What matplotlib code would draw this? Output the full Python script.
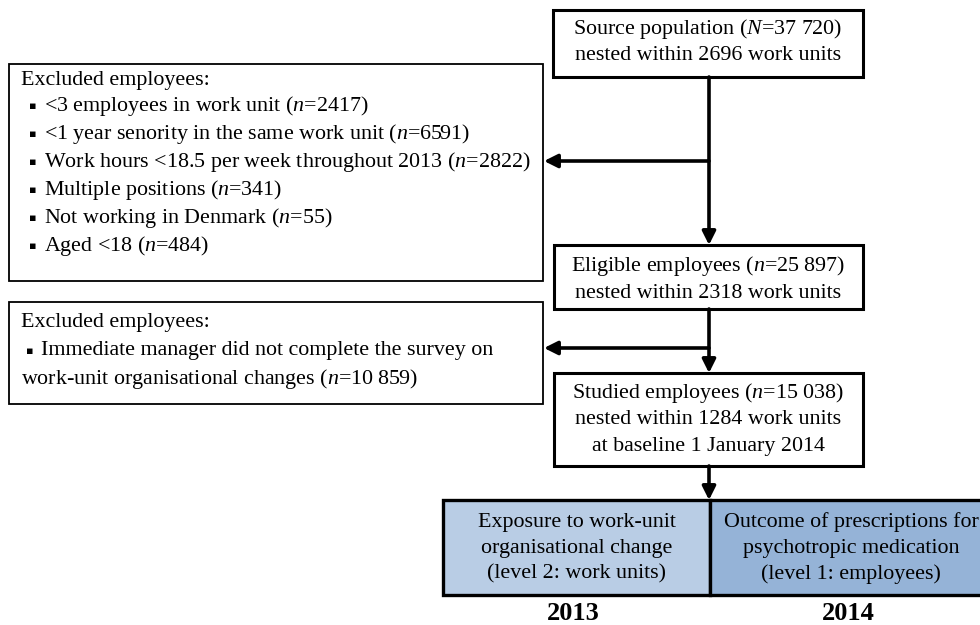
import matplotlib
matplotlib.use('Agg')
import matplotlib.pyplot as plt
from matplotlib.patches import Rectangle

plt.rcParams['mathtext.fontset'] = 'custom'
plt.rcParams['mathtext.rm'] = 'Liberation Serif'
plt.rcParams['mathtext.it'] = 'Liberation Serif:italic'

# flow chart content
source_lines = [r'Source population ($N$=37 720)', 'nested within 2696 work units']
eligible_lines = [r'Eligible employees ($n$=25 897)', 'nested within 2318 work units']
studied_lines = [r'Studied employees ($n$=15 038)', 'nested within 1284 work units',
                 'at baseline 1 January 2014']
excl1_header = 'Excluded employees:'
excl1_items = [r'<3 employees in work unit ($n$=2417)',
               r'<1 year senority in the same work unit ($n$=6591)',
               r'Work hours <18.5 per week throughout 2013 ($n$=2822)',
               r'Multiple positions ($n$=341)',
               r'Not working in Denmark ($n$=55)',
               r'Aged <18 ($n$=484)']
excl2_header = 'Excluded employees:'
excl2_items = ['Immediate manager did not complete the survey on']
excl2_cont = r'work-unit organisational changes ($n$=10 859)'
level_texts = [['Exposure to work-unit', 'organisational change', '(level 2: work units)'],
               ['Outcome of prescriptions for', 'psychotropic medication', '(level 1: employees)']]
years = ['2013', '2014']
level_colors = ['#B9CDE5', '#95B3D7']

SERIF = 'Liberation Serif'
FS = 15.8


def box(ax, x0, y0, x1, y1, lw=2.2, fc='white'):
    ax.add_patch(Rectangle((x0, y0), x1 - x0, y1 - y0, fill=True, facecolor=fc,
                           edgecolor='black', linewidth=lw, zorder=2))


def arrow(ax, start, end):
    ax.annotate('', xy=end, xytext=start,
                arrowprops=dict(arrowstyle='-|>', color='black', lw=2.6,
                                mutation_scale=20, shrinkA=0, shrinkB=0),
                zorder=3)


def main():
    fig = plt.figure(figsize=(9.8, 6.25), dpi=100)
    ax = fig.add_axes([0, 0, 1, 1])
    ax.set_xlim(0, 980)
    ax.set_ylim(625, 0)
    ax.axis('off')

    cx = 709

    # right column boxes
    box(ax, 553, 10, 863, 77)
    for i, t in enumerate(source_lines):
        ax.text(708, 29 + i * 27, t, ha='center', va='center', fontsize=FS, family=SERIF, zorder=4)

    box(ax, 554, 245, 863, 309)
    for i, t in enumerate(eligible_lines):
        ax.text(708, 266 + i * 27, t, ha='center', va='center', fontsize=FS, family=SERIF, zorder=4)

    box(ax, 554, 373, 863, 466)
    for i, t in enumerate(studied_lines):
        ax.text(708, 393 + i * 27, t, ha='center', va='center', fontsize=FS, family=SERIF, zorder=4)

    # excluded box 1
    box(ax, 9, 64, 543, 281, lw=1.3)
    ax.text(21, 80, excl1_header, ha='left', va='center', fontsize=FS, family=SERIF, zorder=4)
    for i, t in enumerate(excl1_items):
        y = 106 + i * 28
        ax.text(29, y, '\u25aa', ha='left', va='center', fontsize=8, family='DejaVu Sans', zorder=4)
        ax.text(44, y, t, ha='left', va='center', fontsize=FS, family=SERIF, zorder=4)

    # excluded box 2
    box(ax, 9, 302, 543, 404, lw=1.3)
    ax.text(21, 322, excl2_header, ha='left', va='center', fontsize=FS, family=SERIF, zorder=4)
    for i, t in enumerate(excl2_items):
        ax.text(26, 351, '\u25aa', ha='left', va='center', fontsize=8, family='DejaVu Sans', zorder=4)
        ax.text(41, 351, t, ha='left', va='center', fontsize=FS, family=SERIF, zorder=4)
    ax.text(21, 379, excl2_cont, ha='left', va='center', fontsize=FS, family=SERIF, zorder=4)

    # arrows
    arrow(ax, (cx, 77), (cx, 245))
    arrow(ax, (cx, 161), (544, 161))
    arrow(ax, (cx, 309), (cx, 373))
    arrow(ax, (cx, 348), (544, 348))
    arrow(ax, (cx, 466), (cx, 500))

    # bottom level boxes
    edges = [443, 710, 992]
    for i in range(2):
        box(ax, edges[i], 500, edges[i + 1], 595, lw=2.4, fc=level_colors[i])
        xc = (edges[i] + edges[i + 1]) / 2
        for j, t in enumerate(level_texts[i]):
            ax.text(xc, 522 + j * 26, t, ha='center', va='center', fontsize=FS,
                    family=SERIF, zorder=4)
        ax.text(xc - 3, 613, years[i], ha='center', va='center', fontsize=19,
                family=SERIF, fontweight='bold', zorder=4)

    fig.savefig('out.png', dpi=100)


if __name__ == '__main__':
    main()
